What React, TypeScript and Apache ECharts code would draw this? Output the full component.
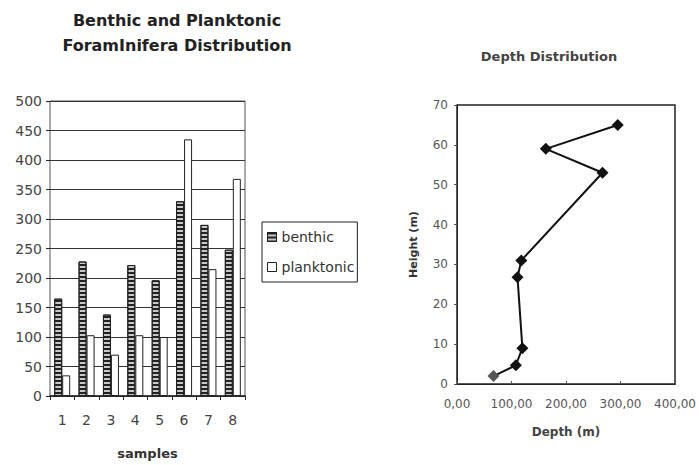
import React, { useEffect, useRef } from "react";
import * as echarts from "echarts";

const samples = ["1", "2", "3", "4", "5", "6", "7", "8"];
const benthic = [165, 228, 138, 222, 196, 330, 290, 248];
const planktonic = [35, 103, 70, 103, 100, 435, 215, 368];

const depth = [67, 108, 120, 111, 118, 267, 163, 295];
const height = [2, 4.7, 9, 26.8, 31, 53, 59, 65];

const FONT = "DejaVu Sans";

export default function App() {
  const ref = useRef<HTMLDivElement>(null);
  useEffect(() => {
    const chart = echarts.init(ref.current!, null, { renderer: "svg" });
    const depthPoints = depth.map((d, i) => ({
      value: [d, height[i]],
      itemStyle: i === 0 ? { color: "#555" } : undefined,
    }));
    chart.setOption({
      animation: false,
      backgroundColor: "#fff",
      textStyle: { fontFamily: FONT },
      title: [
        {
          text: "Benthic and Planktonic\nForamInifera Distribution",
          left: 177,
          top: 8,
          padding: 0,
          textAlign: "center",
          textStyle: { fontFamily: FONT, fontSize: 16, fontWeight: "bold", color: "#222", lineHeight: 25 },
        },
        {
          text: "Depth Distribution",
          left: 549,
          top: 50,
          padding: 0,
          textAlign: "center",
          textStyle: { fontFamily: FONT, fontSize: 13, fontWeight: "bold", color: "#444" },
        },
      ],
      legend: {
        data: ["benthic", "planktonic"],
        orient: "vertical",
        left: 262,
        top: 222,
        padding: [8, 3, 8, 5],
        itemWidth: 9,
        itemHeight: 9,
        itemGap: 16,
        itemStyle: { borderColor: "#222", borderWidth: 1 },
        icon: "rect",
        borderColor: "#222",
        borderWidth: 1,
        textStyle: { fontFamily: FONT, fontSize: 14, color: "#333" },
      },
      grid: [
        { left: 50, top: 101, width: 195, height: 300, show: true, borderColor: "#555", borderWidth: 1 },
        { left: 457, top: 105, width: 218, height: 279, show: true, borderColor: "#222", borderWidth: 1.5 },
      ],
      xAxis: [
        {
          type: "category",
          gridIndex: 0,
          data: samples,
          name: "samples",
          nameLocation: "middle",
          nameGap: 51,
          nameTextStyle: { fontFamily: FONT, fontSize: 13, fontWeight: "bold", color: "#333" },
          axisLine: { lineStyle: { color: "#222", width: 1.5 } },
          axisTick: { show: true, length: 4, lineStyle: { color: "#222" } },
          axisLabel: { margin: 17, fontSize: 14, color: "#444", fontFamily: FONT },
        },
        {
          type: "value",
          gridIndex: 1,
          min: 0,
          max: 400,
          interval: 100,
          name: "Depth (m)",
          nameLocation: "middle",
          nameGap: 42,
          nameTextStyle: { fontFamily: FONT, fontSize: 12, fontWeight: "bold", color: "#444" },
          splitLine: { show: false },
          axisLine: { lineStyle: { color: "#222" } },
          axisTick: { show: true, inside: true, length: 3, lineStyle: { color: "#555" } },
          axisLabel: {
            margin: 14,
            fontSize: 12,
            color: "#555",
            fontFamily: FONT,
            formatter: (v: number) => v.toFixed(2).replace(".", ","),
          },
        },
      ],
      yAxis: [
        {
          type: "value",
          gridIndex: 0,
          min: 0,
          max: 500,
          interval: 50,
          splitLine: { show: true, lineStyle: { color: "#333", width: 1 } },
          axisLine: { show: false },
          axisTick: { show: true, length: 4, lineStyle: { color: "#222" } },
          axisLabel: { margin: 8, fontSize: 14, color: "#444", fontFamily: FONT },
        },
        {
          type: "value",
          gridIndex: 1,
          min: 0,
          max: 70,
          interval: 10,
          name: "Height (m)",
          nameLocation: "middle",
          nameRotate: 90,
          nameGap: 38,
          nameTextStyle: { fontFamily: FONT, fontSize: 11, fontWeight: "bold", color: "#333" },
          splitLine: { show: false },
          axisLine: { lineStyle: { color: "#222" } },
          axisTick: { show: true, length: 3, lineStyle: { color: "#555" } },
          axisLabel: { margin: 9, fontSize: 12, color: "#555", fontFamily: FONT },
        },
      ],
      series: [
        {
          name: "benthic",
          type: "bar",
          xAxisIndex: 0,
          yAxisIndex: 0,
          data: benthic,
          barWidth: 8,
          barGap: "0%",
          itemStyle: {
            color: "#c8c8c8",
            borderColor: "#222",
            borderWidth: 1,
            decal: {
              symbol: "rect",
              symbolSize: 1,
              dashArrayX: [[1, 0]],
              dashArrayY: [1.5, 2],
              rotation: 0,
              color: "#222",
              backgroundColor: "#c8c8c8",
            },
          },
        },
        {
          name: "planktonic",
          type: "bar",
          xAxisIndex: 0,
          yAxisIndex: 0,
          data: planktonic,
          barWidth: 8,
          itemStyle: { color: "#fff", borderColor: "#222", borderWidth: 1 },
        },
        {
          name: "depth",
          type: "line",
          xAxisIndex: 1,
          yAxisIndex: 1,
          data: depthPoints,
          symbol: "diamond",
          symbolSize: 12,
          lineStyle: { color: "#111", width: 2 },
          itemStyle: { color: "#111" },
        },
      ],
    });
    return () => chart.dispose();
  }, []);
  return (
    <div
      ref={ref}
      style={{ position: "absolute", left: 0, top: 0, width: 699, height: 465 }}
    />
  );
}
